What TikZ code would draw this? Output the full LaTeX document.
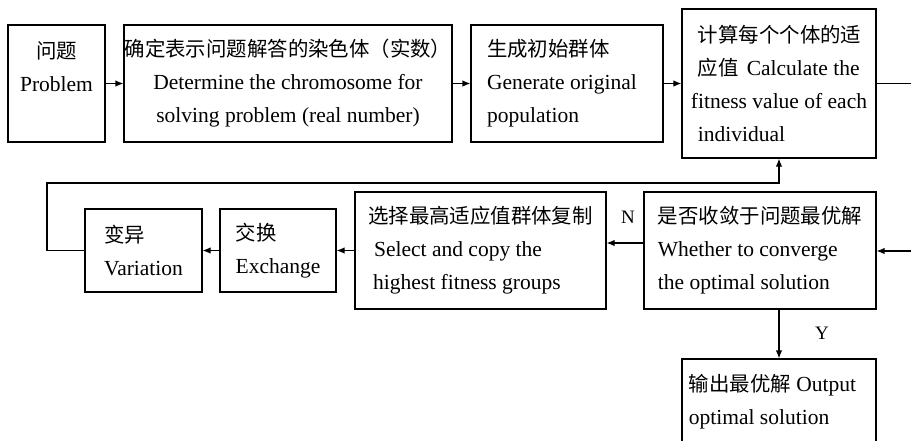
\documentclass[tikz,border=0pt]{standalone}
\usepackage{fontspec}
\setmainfont{Liberation Serif}
\newfontfamily\cjk[Scale=0.95]{Noto Sans CJK SC}
\usetikzlibrary{arrows.meta}
\begin{document}
\begin{tikzpicture}[x=1pt,y=-1pt,
  box/.style={draw,line width=1.2pt,inner sep=0pt,font=\fontsize{21.5}{33}\selectfont},
  arr/.style={line width=1.2pt,-{Latex[length=8pt,width=6.5pt]}},
  lab/.style={font=\fontsize{19}{22}\selectfont,inner sep=0pt}]
\useasboundingbox (0,0) rectangle (911,440);
\clip (0,0) rectangle (911,440);
\fill[white] (0,0) rectangle (911,440);
% row 1
\node[box,minimum width=97pt,minimum height=117pt,align=center] (prob) at (56.5,83.5)
  {{\cjk 问题}\\Problem\\\mbox{}};
\node[box,minimum width=328pt,minimum height=117pt,align=center] (det) at (288,83.5)
  {{\cjk 确定表示问题解答的染色体（实数）}\\Determine the chromosome for\\solving problem (real number)};
\node[box,minimum width=192pt,minimum height=117pt,align=left] (gen) at (567,83.5)
  {{\cjk 生成初始群体}\\Generate original\rule{10pt}{0pt}\\population};
\node[box,minimum width=194pt,minimum height=149pt,align=left] (calc) at (779,83.5)
  {\hspace{7pt}{\cjk 计算每个个体的适}\\\hspace{7pt}{\cjk 应值}\hspace{8pt}Calculate the\\fitness value of each\\\hspace{7pt}individual};
% row 2
\node[box,minimum width=117pt,minimum height=83pt,align=left] (var) at (143.5,250.5)
  {{\cjk 变异}\\Variation};
\node[box,minimum width=116pt,minimum height=83pt,align=left] (exch) at (278,250.5)
  {{\cjk 交换}\\Exchange};
\node[box,minimum width=251pt,minimum height=117pt,align=left] (sel) at (480.5,250.5)
  {{\cjk 选择最高适应值群体复制}\\\hspace{6pt}Select and copy the\\\hspace{5pt}highest fitness groups};
\node[box,minimum width=232pt,minimum height=117pt,align=left] (whe) at (760,250.5)
  {{\cjk 是否收敛于问题最优解}\\Whether to converge\\the optimal solution};
% row 3
\node[box,minimum width=194pt,minimum height=85pt,align=left] (out) at (779,401.5)
  {{\cjk 输出最优解} Output\rule{13pt}{0pt}\\optimal solution};
% labels
\node[lab] (nlab) at (628,217) {N};
\node[lab] (ylab) at (822,333) {Y};
% connectors
\coordinate (loop) at (47,183);
\draw[arr] (prob.east) -- (det.west);
\draw[arr] (det.east) -- (gen.west);
\draw[arr] (gen.east) -- (calc.west);
\draw[arr] (calc.east) -- ++(45,0) |- ([yshift=-0.5pt]whe.east);
\draw[arr] ([yshift=7.5pt]whe.west) -- ([yshift=7.5pt]sel.east);
\draw[arr] (sel.west) -- (exch.east);
\draw[arr] (exch.west) -- (var.east);
\draw[arr] (var.west) -| (loop) -| (calc.south);
\draw[arr] (whe.south -| out.north) -- (out.north);
\end{tikzpicture}
\end{document}
